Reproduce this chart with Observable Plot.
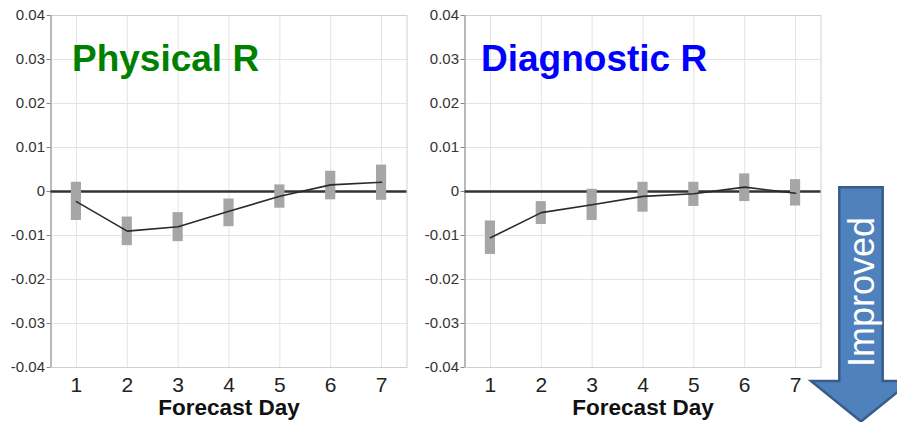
<!DOCTYPE html>
<html>
<head>
<meta charset="utf-8">
<script src="https://cdn.jsdelivr.net/npm/d3@7"></script>
<script src="https://cdn.jsdelivr.net/npm/@observablehq/plot@0.6"></script>
<style>
  html, body { margin: 0; padding: 0; background: #fff; }
  #wrap { position: relative; width: 897px; height: 422px; overflow: hidden; font-family: "Liberation Sans", Arial, sans-serif; }
</style>
</head>
<body>
<div id="wrap"></div>
<script>
// ---- data ----
const days = [1, 2, 3, 4, 5, 6, 7];
const yTicks = [-0.04, -0.03, -0.02, -0.01, 0, 0.01, 0.02, 0.03, 0.04];

const physicalMean = [-0.0023, -0.0090, -0.0080, -0.0045, -0.0011, 0.0015, 0.0021];
const physicalLow  = [-0.0066, -0.0123, -0.0114, -0.0080, -0.0038, -0.0019, -0.0020];
const physicalHigh = [0.0021, -0.0058, -0.0048, -0.0017, 0.0015, 0.0046, 0.0060];

const diagnosticMean = [-0.0105, -0.0048, -0.0030, -0.0011, -0.0005, 0.0010, -0.0004];
const diagnosticLow  = [-0.0143, -0.0075, -0.0066, -0.0047, -0.0034, -0.0023, -0.0033];
const diagnosticHigh = [-0.0067, -0.0023, 0.0005, 0.0021, 0.0021, 0.0040, 0.0027];

const titles = ["Physical R", "Diagnostic R"];
const titleColors = ["#008000", "#0000ff"];
const xLabel = "Forecast Day";
const arrowLabel = "Improved";

function rows(mean, low, high) {
  return days.map((d, i) => ({day: d, mean: mean[i], low: low[i], high: high[i]}));
}

function panel(data, title, color, opts) {
  return Plot.plot({
    width: opts.width,
    height: 422,
    marginLeft: opts.marginLeft,
    marginRight: opts.marginRight,
    marginTop: 15,
    marginBottom: 55,
    style: {fontFamily: '"Liberation Sans", Arial, sans-serif', background: "transparent", overflow: "visible"},
    x: {domain: [0.5, 7.5]},
    y: {domain: [-0.04, 0.04]},
    marks: [
      Plot.gridX(days, {stroke: "#e4e4e4", strokeOpacity: 1}),
      Plot.gridY(yTicks, {stroke: "#e4e4e4", strokeOpacity: 1}),
      Plot.frame({stroke: "#cfcfcf"}),
      Plot.axisX(days, {tickSize: 0, tickPadding: 10, fontSize: 21, fill: "#222", label: null}),
      Plot.axisY(yTicks, {tickSize: 4, tickPadding: 2, fontSize: 15, fill: "#333", stroke: "#888",
        tickFormat: d => d === 0 ? "0" : d.toFixed(2), label: null}),
      Plot.ruleX([0.5], {stroke: "#9a9a9a", strokeWidth: 1.2}),
      Plot.ruleY([0], {stroke: "#333", strokeWidth: 2.5}),
      Plot.rect(data, {x1: d => d.day - 0.1, x2: d => d.day + 0.1, y1: "low", y2: "high", fill: "#a6a6a6"}),
      Plot.line(data, {x: "day", y: "mean", stroke: "#2a2a2a", strokeWidth: 1.6}),
      Plot.text([title], {frameAnchor: "top-left", dx: opts.titleDx, dy: 55, lineAnchor: "bottom",
        textAnchor: "start", fill: color, fontSize: 37, fontWeight: "bold"}),
      Plot.text([xLabel], {frameAnchor: "bottom", dy: 40, lineAnchor: "middle",
        fill: "#111", fontSize: 22.5, fontWeight: "bold"})
    ]
  });
}

const wrap = document.getElementById("wrap");
const left = panel(rows(physicalMean, physicalLow, physicalHigh), titles[0], titleColors[0],
  {width: 420, marginLeft: 50.5, marginRight: 13.5, titleDx: 21});
left.style.position = "absolute"; left.style.left = "0px"; left.style.top = "0px";
wrap.appendChild(left);

const right = panel(rows(diagnosticMean, diagnosticLow, diagnosticHigh), titles[1], titleColors[1],
  {width: 414, marginLeft: 44.5, marginRight: 13.5, titleDx: 16});
right.style.position = "absolute"; right.style.left = "420px"; right.style.top = "0px";
wrap.appendChild(right);

// decorative "Improved" arrow
const svg = d3.select(wrap).append("svg")
  .attr("width", 897).attr("height", 422)
  .style("position", "absolute").style("left", "0px").style("top", "0px");
svg.append("path")
  .attr("d", "M839.3,187.3 L882.7,187.3 L882.7,381 L911,381 L861,421.5 L811,381 L839.3,381 Z")
  .attr("fill", "#4f81bd").attr("stroke", "#385d8a").attr("stroke-width", 2.5)
  .attr("stroke-linejoin", "miter");
svg.append("text")
  .attr("transform", "translate(873.5,367) rotate(-90)")
  .attr("fill", "#fff")
  .attr("font-size", 36)
  .attr("font-family", '"Liberation Sans", Arial, sans-serif')
  .text(arrowLabel);
</script>
</body>
</html>
